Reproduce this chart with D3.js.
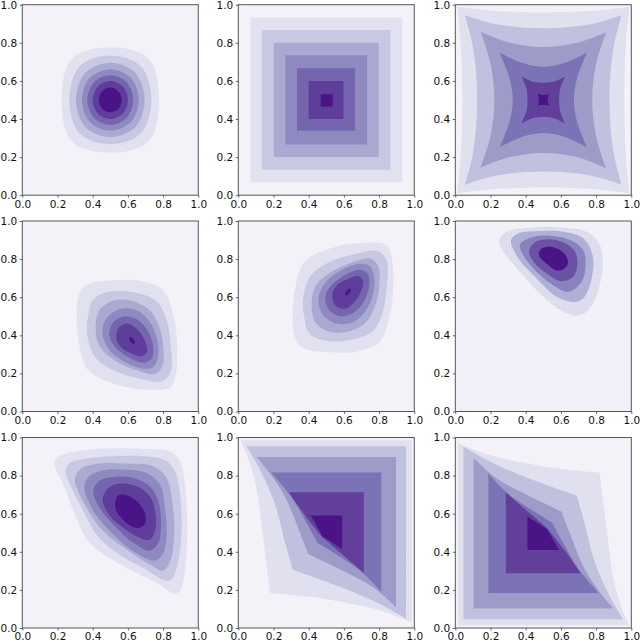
<!DOCTYPE html>
<html>
<head>
<meta charset="utf-8">
<script src="https://cdn.jsdelivr.net/npm/d3@7"></script>
<style>
html, body { margin: 0; padding: 0; background: #fff; }
svg { display: block; }
text { font-family: "DejaVu Sans", sans-serif; }
</style>
</head>
<body>
<div id="chart"></div>
<script>
var tickValues = [0, 0.2, 0.4, 0.6, 0.8, 1];

// fills go from the background up to the peak
var fills8 = ['#f4f2f8', '#e2e1ef', '#c8c8e2', '#aaa9d1', '#8e8ac0', '#7565ae', '#5f3d9a', '#4a1486'];
var fills7 = ['#f4f2f8', '#e0e0ee', '#c0c0df', '#9e9bc9', '#7b73b5', '#613f9a', '#4a1486'];
var fills6 = ['#f2f0f8', 'url(#dots)', '#b0b0d6', '#8883bf', '#6a51a3', '#4a1486'];

// contour outlines, in data units. a third value 1 marks a sharp corner
var roundContours = [
	[[.5,.777],[.718,.718],[.777,.5],[.718,.282],[.5,.223],[.282,.282],[.223,.5],[.282,.718]],
	[[.5,.733],[.675,.675],[.733,.5],[.675,.325],[.5,.267],[.325,.325],[.267,.5],[.325,.675]],
	[[.5,.695],[.642,.642],[.695,.5],[.642,.358],[.5,.305],[.358,.358],[.305,.5],[.358,.642]],
	[[.5,.661],[.616,.616],[.661,.5],[.616,.384],[.5,.339],[.384,.384],[.339,.5],[.384,.616]],
	[[.5,.63],[.593,.593],[.63,.5],[.593,.407],[.5,.37],[.407,.407],[.37,.5],[.407,.593]],
	[[.5,.6],[.571,.571],[.6,.5],[.571,.429],[.5,.4],[.429,.429],[.4,.5],[.429,.571]],
	[[.5,.565],[.546,.546],[.565,.5],[.546,.454],[.5,.435],[.454,.454],[.435,.5],[.454,.546]]
];

var squareContours = [
	[[.068,.933,1],[.932,.933,1],[.932,.068,1],[.068,.068,1]],
	[[.134,.867,1],[.864,.867,1],[.864,.133,1],[.134,.133,1]],
	[[.202,.8,1],[.798,.8,1],[.798,.2,1],[.202,.2,1]],
	[[.268,.734,1],[.732,.734,1],[.732,.266,1],[.268,.266,1]],
	[[.334,.667,1],[.664,.667,1],[.664,.338,1],[.334,.338,1]],
	[[.4,.6,1],[.598,.6,1],[.598,.4,1],[.4,.4,1]],
	[[.468,.53,1],[.536,.53,1],[.536,.466,1],[.468,.466,1]]
];

// star panel: only one half of the top edge is read, the rest repeats by symmetry
var starArcs = [
	[[.011,.99,1],[.2,.97],[.5,.96]],
	[[.055,.945,1],[.235,.897],[.5,.876]],
	[[.144,.858,1],[.31,.8],[.5,.778]],
	[[.252,.748,1],[.386,.692],[.5,.674]],
	[[.377,.625,1],[.443,.595],[.5,.59]],
	[[.468,.532,1],[.485,.527],[.5,.525]]
];

var leafContours = [
	[[.37,.668],[.498,.688],[.669,.686],[.8,.637],[.858,.505],[.881,.33],[.867,.172],[.839,.125],[.6875,.116],[.517,.146],[.375,.216],[.328,.33],[.309,.505],[.325,.62]],
	[[.375,.505],[.4,.585],[.479,.626],[.63,.626],[.763,.579],[.82,.479],[.843,.347],[.843,.207],[.792,.158],[.669,.172],[.517,.216],[.413,.286],[.369,.4]],
	[[.417,.426],[.4375,.532],[.517,.582],[.621,.582],[.725,.532],[.778,.444],[.801,.339],[.797,.242],[.754,.198],[.65,.216],[.527,.268],[.441,.339]],
	[[.4545,.418],[.483,.496],[.564,.54],[.659,.528],[.725,.47],[.763,.391],[.773,.295],[.744,.233],[.6875,.225],[.583,.26],[.489,.33]],
	[[.494,.4],[.517,.467],[.583,.5],[.659,.479],[.716,.418],[.744,.339],[.735,.277],[.6875,.256],[.602,.286],[.527,.339]],
	[[.534,.386],[.551,.444],[.602,.461],[.659,.426],[.703,.356],[.708,.312],[.678,.289],[.612,.309],[.559,.339]],
	[[.608,.391],[.621,.388],[.64,.368],[.634,.354],[.621,.361],[.608,.379]]
];

var cornerContours = [
	[[.25,.9],[.292,.944],[.424,.965],[.614,.965],[.746,.944],[.822,.874],[.837,.768],[.803,.61],[.746,.523],[.689,.502],[.614,.523],[.5,.602],[.367,.733],[.263,.856]],
	[[.316,.9],[.358,.935],[.481,.947],[.614,.944],[.727,.909],[.78,.821],[.775,.698],[.727,.593],[.67,.575],[.576,.602],[.462,.698],[.358,.804]],
	[[.367,.874],[.424,.912],[.538,.923],[.652,.9],[.727,.847],[.74,.768],[.718,.681],[.642,.628],[.557,.663],[.443,.751],[.386,.821]],
	[[.419,.839],[.443,.882],[.519,.904],[.614,.888],[.68,.839],[.693,.768],[.67,.707],[.604,.684],[.519,.725],[.453,.777]],
	[[.475,.821],[.49,.855],[.54,.865],[.59,.85],[.63,.815],[.64,.775],[.61,.745],[.575,.74],[.525,.77]]
];

var shieldContours = [
	[[.182,.867],[.205,.902],[.309,.928],[.479,.942],[.6875,.94],[.839,.928],[.896,.876],[.924,.753],[.9375,.525],[.924,.298],[.896,.193],[.862,.18],[.782,.228],[.631,.298],[.479,.377],[.375,.455],[.299,.595],[.233,.753]],
	[[.246,.823],[.271,.867],[.366,.89],[.517,.902],[.6875,.902],[.811,.881],[.867,.823],[.896,.7],[.905,.525],[.886,.35],[.848,.254],[.811,.249],[.6875,.315],[.536,.394],[.422,.49],[.347,.613],[.28,.736]],
	[[.299,.779],[.328,.832],[.422,.862],[.593,.863],[.744,.849],[.82,.788],[.854,.648],[.862,.473],[.839,.35],[.801,.301],[.725,.333],[.593,.412],[.46,.508],[.366,.63]],
	[[.352,.744],[.38,.797],[.46,.828],[.574,.832],[.706,.814],[.782,.753],[.811,.63],[.82,.49],[.801,.394],[.754,.354],[.631,.403],[.498,.508],[.394,.63]],
	[[.403,.718],[.435,.771],[.517,.793],[.631,.788],[.725,.744],[.773,.665],[.788,.543],[.773,.447],[.725,.406],[.631,.447],[.517,.543],[.44,.63]],
	[[.456,.674],[.49,.736],[.555,.758],[.65,.744],[.725,.692],[.754,.613],[.758,.525],[.725,.464],[.669,.473],[.574,.525],[.498,.587]],
	[[.527,.657],[.545,.695],[.58,.7],[.63,.68],[.675,.64],[.7,.595],[.695,.545],[.655,.525],[.61,.54],[.56,.58],[.532,.62]]
];

var wedgeContours = [
	[[.013,.986,1],[.985,.986,1],[.985,.03,1],[.81,.091],[.62,.131],[.431,.161],[.18,.184,1],[.146,.438],[.099,.753],[.051,.902]],
	[[.046,.954,1],[.953,.954,1],[.953,.049,1],[.81,.123],[.62,.201],[.309,.306,1],[.269,.438],[.203,.665],[.108,.858]],
	[[.104,.897,1],[.896,.897,1],[.896,.109,1],[.772,.21],[.62,.289],[.397,.389,1],[.355,.49],[.269,.683],[.184,.806]],
	[[.186,.816,1],[.812,.816,1],[.812,.189,1],[.696,.298],[.45,.447,1],[.393,.543],[.298,.692]],
	[[.288,.713,1],[.713,.713,1],[.713,.289,1],[.478,.476,1],[.383,.587]],
	[[.412,.59,1],[.59,.59,1],[.59,.415,1],[.478,.482,1]]
];

function fourfold(arc) {
	var edge = arc.concat([[1 - arc[1][0], arc[1][1]]]);
	var out = [];
	var cur = edge;
	for (var i = 0; i < 4; i++) {
		out = out.concat(cur);
		cur = cur.map(p => [p[1], 1 - p[0], p[2]]);
	}
	return out;
}
var flipY = c => c.map(p => [p[0], 1 - p[1], p[2]]);
var flipXY = c => c.map(p => [1 - p[0], 1 - p[1], p[2]]);

// row by row
var panels = [
	{contours: roundContours, fills: fills8},
	{contours: squareContours, fills: fills8},
	{contours: starArcs.map(fourfold), fills: fills7},
	{contours: leafContours, fills: fills8},
	{contours: leafContours.map(flipY), fills: fills8},
	{contours: cornerContours, fills: fills6},
	{contours: shieldContours, fills: fills8},
	{contours: wedgeContours, fills: fills7},
	{contours: wedgeContours.map(flipXY), fills: fills7}
];

var colLefts = [22.3, 238.3, 455.3];
var rowTops = [4.7, 221, 437.5];
var panelW = 176;
var panelH = 190.5;

var svg = d3.select('#chart').append('svg')
	.attr('width', 640)
	.attr('height', 643);

var pattern = svg.append('defs').append('pattern')
	.attr('id', 'dots')
	.attr('width', 2.5)
	.attr('height', 2.5)
	.attr('patternUnits', 'userSpaceOnUse');
pattern.append('rect').attr('width', 2.5).attr('height', 2.5).attr('fill', '#dfdfee');
pattern.append('circle').attr('cx', 1.25).attr('cy', 1.25).attr('r', .5).attr('fill', '#cdcde5');

var x = d3.scaleLinear().domain([0, 1]).range([0, panelW]);
var y = d3.scaleLinear().domain([0, 1]).range([panelH, 0]);

var line = d3.line()
	.x(d => x(d[0]))
	.y(d => y(d[1]))
	.curve(d3.curveCatmullRomClosed.alpha(0.5));

// doubling a point makes the curve turn sharply there
var outline = c => line(c.flatMap(p => p[2] ? [p, p] : [p]));

panels.forEach((panel, i) => {
	var g = svg.append('g')
		.attr('transform', `translate(${colLefts[i % 3]},${rowTops[Math.floor(i / 3)]})`);

	g.append('rect')
		.attr('width', panelW)
		.attr('height', panelH)
		.attr('fill', panel.fills[0]);

	g.selectAll('path.level')
		.data(panel.contours)
		.enter().append('path')
		.attr('class', 'level')
		.attr('d', outline)
		.attr('fill', (d, j) => panel.fills[j + 1]);

	g.append('rect')
		.attr('width', panelW)
		.attr('height', panelH)
		.attr('fill', 'none')
		.attr('stroke', '#555')
		.attr('stroke-width', 1);

	var xAxis = g.append('g')
		.attr('transform', `translate(0,${panelH})`)
		.call(d3.axisBottom(x).tickValues(tickValues).tickFormat(d3.format('.1f')).tickSizeOuter(0).tickSizeInner(2.5).tickPadding(2.5));
	var yAxis = g.append('g')
		.call(d3.axisLeft(y).tickValues(tickValues).tickFormat(d3.format('.1f')).tickSizeOuter(0).tickSizeInner(2.5).tickPadding(2.5));

	[xAxis, yAxis].forEach(a => {
		a.select('.domain').remove();
		a.selectAll('line').attr('stroke', '#444').attr('stroke-width', .8);
		a.selectAll('text').attr('fill', '#111').style('font-size', '10.5px').style('font-family', '"DejaVu Sans", sans-serif');
	});
});
</script>
</body>
</html>
